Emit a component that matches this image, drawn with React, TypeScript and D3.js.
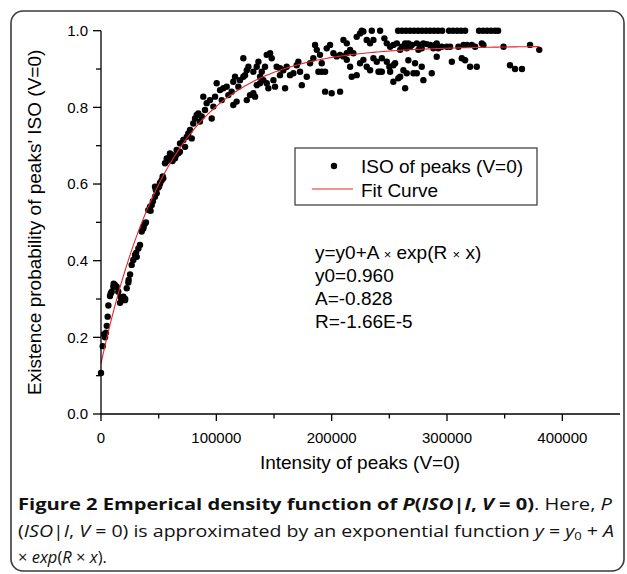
import React from "react";
import * as d3 from "d3";

// ---- data (x in thousands of intensity units, y = probability) ----
const isoPoints: [number, number][] = [
  [0, .107], [1.5, .177], [2.6, .208], [3.5, .2], [4.3, .212], [5, .23], [5.8, .254], [6.4, .283], [7.8, .308], [8.5, .315],
  [9.3, .319], [10.7, .332], [11, .34], [12.1, .337], [13.6, .332], [15, .319], [16.5, .29], [17, .305], [18, .297], [19.4, .306],
  [20.8, .297], [21, .3], [22.3, .328], [23.7, .343], [24, .35], [25.2, .364], [26.6, .389], [28, .402], [29.5, .415], [30.5, .42],
  [31, .41], [32.4, .432], [33.8, .441], [35.3, .476], [36.7, .484], [37, .49], [38.2, .497], [39, .5], [41, .532], [42.5, .541],
  [43, .53], [44, .545], [45, .555], [46.8, .567], [46.8, .593], [47.5, .585], [48.3, .576], [49.7, .591], [50.5, .595], [51.2, .602],
  [51.2, .603], [52.6, .61], [53.5, .62], [54, .615], [55.5, .654], [57, .66], [57, .667], [58.3, .667], [59.8, .68], [60, .67],
  [61.2, .676], [62, .66], [62.7, .671], [64.2, .667], [65, .675], [65.6, .689], [67, .68], [68.4, .684], [68.5, .706], [71.4, .715],
  [72.9, .697], [74.3, .723], [75.7, .732], [77.2, .741], [78.7, .719], [80, .758], [81.5, .771], [83, .78], [84.4, .784], [85.8, .763],
  [87.3, .776], [88.7, .828], [90.2, .793], [91.6, .811], [94.5, .819], [96, .771], [97.4, .802], [98.9, .828], [100.3, .863], [103.2, .845],
  [104.7, .819], [106.1, .85], [109, .854], [110.4, .832], [113.3, .841], [114.7, .867], [114.7, .806], [116.2, .88], [117.6, .815], [119.1, .854],
  [120.5, .871], [123.4, .88], [123.4, .928], [124.9, .884], [126.4, .819], [126.4, .897], [127.8, .906], [129.2, .832], [132.1, .837], [132.1, .893],
  [133.6, .828], [135, .858], [135, .906], [136.5, .919], [137.9, .863], [137.9, .88], [139.4, .893], [140.8, .871], [142.2, .906], [143.7, .937],
  [143.7, .863], [145.1, .85], [146.6, .941], [148, .928], [149.5, .871], [150.9, .854], [152.3, .906], [155.2, .884], [155.2, .902], [158.1, .897],
  [159.6, .85], [161, .906], [163.9, .884], [166.8, .889], [169.7, .91], [171.1, .919], [172.6, .893], [174.1, .858], [178.4, .88], [181.3, .915],
  [184.1, .928], [185.6, .963], [187.1, .95], [188.5, .893], [189.9, .937], [191.4, .915], [191.4, .893], [194.3, .893], [194.3, .841], [195.7, .954],
  [198.6, .963], [200, .837], [201.5, .941], [204.4, .933], [207.3, .937], [207.3, .841], [210.2, .933], [210.2, .976], [213.1, .941], [213.1, .967],
  [213.1, .924], [216, .95], [216, .906], [217.4, .88], [218.8, .941], [221.7, .984], [221.7, .884], [224.6, .993], [224.6, .915], [227.5, .998],
  [227.5, .924], [230.4, .976], [230.4, .906], [233.3, .967], [233.3, .897], [236.2, .976], [236.2, .928], [239.1, .919], [240.6, .893], [242, .893],
  [243.5, .928], [243.5, .893], [245.7, .98], [247.8, .967], [247.8, .919], [250, .906], [250.7, .958], [250.7, .893], [253.5, .963], [253.5, .91],
  [253.5, .867], [255, .915], [256.5, .967], [257.8, .876], [259.4, .95], [259.4, .88], [260.8, .958], [262.2, .897], [263.7, .967], [263.7, .85],
  [265.1, .954], [265.1, .889], [266.5, .967], [266.5, .923], [268, .958], [269.5, .963], [270.9, .889], [272.3, .915], [273.8, .967], [273.8, .889],
  [275.2, .95], [276.7, .963], [278.1, .954], [278.1, .906], [279.5, .967], [279.5, .871], [282.4, .965], [285.3, .963], [286.8, .889], [288.2, .954],
  [289.6, .963], [291.1, .967], [291.1, .932], [292.5, .954], [295.4, .958], [299.8, .958], [302.7, .958], [304.2, .919], [309.9, .958], [312.8, .928],
  [314.3, .963], [315.7, .923], [317.2, .963], [320, .906], [321.5, .963], [324.4, .958], [325.8, .906], [330.2, .967], [331.6, .963], [349, .958],
  [354.6, .91], [359, .9], [365, .9], [372, .963], [380, .95],
];
// points sitting on the y = 1.0 line (x in thousands)
const topRowX: number[] = [
  226.1, 234.8, 242, 257.6, 261, 264.5, 268, 271.5, 275, 278.4, 281.9, 285.3, 288.8, 292.3, 295.8,
  301.8, 305.3, 308.8, 312.2, 315.7, 327.8, 331.3, 334.8, 338.3, 341.7, 344.3,
];

// fit parameters shown in the chart
const fitY0 = 0.96;
const fitA = -0.828;
const fitR = -1.66e-5;
const fitMaxX = 380000;

const xMajorTicks = [0, 100000, 200000, 300000, 400000];
const xMinorTicks = [50000, 150000, 250000, 350000];
const yMajorTicks = [0, 0.2, 0.4, 0.6, 0.8, 1.0];
const yMinorTicks = [0.1, 0.3, 0.5, 0.7, 0.9];

const xTitle = "Intensity of peaks (V=0)";
const yTitle = "Existence probability of peaks' ISO (V=0)";
const legendLabels = ["ISO of peaks (V=0)", "Fit Curve"];
const eqLines = ["y0=0.960", "A=-0.828", "R=-1.66E-5"];

export default function App() {
  const x = d3.scaleLinear().domain([0, 450000]).range([101, 620]);
  const y = d3.scaleLinear().domain([0, 1]).range([414, 30.7]);
  const arial = "'Liberation Sans', Arial, sans-serif";
  const cap = "'Open Sans', 'Noto Sans', sans-serif";

  const fitData = d3.range(0, fitMaxX + 1, 2000).map((v) => [v, fitY0 + fitA * Math.exp(fitR * v)] as [number, number]);
  const line = d3.line<[number, number]>().x((d) => x(d[0])).y((d) => y(d[1]));

  const allPts: [number, number][] = [
    ...isoPoints.map((p) => [p[0] * 1000, p[1]] as [number, number]),
    ...topRowX.map((v) => [v * 1000, 1.0] as [number, number]),
  ];

  const x0 = x(0), y0 = y(0);

  return (
    <svg width={627} height={574} style={{ position: "absolute", left: 0, top: 0, background: "#fff" }}>
      <rect x={0} y={0} width={627} height={574} fill="#fff" />
      <rect x={11} y={11} width={613} height={560} rx={12} ry={12} fill="none" stroke="#3a3a3a" strokeWidth={1.6} />

      {/* points */}
      <g fill="#000">
        {allPts.map((p, i) => (
          <circle key={i} cx={x(p[0])} cy={y(p[1])} r={3.2} />
        ))}
      </g>
      {/* fit curve */}
      <path d={line(fitData) || ""} fill="none" stroke="#e8262a" strokeWidth={1.1} />

      {/* axes */}
      <g stroke="#000" strokeWidth={1.3}>
        <line x1={x0} y1={y0} x2={x(450000)} y2={y0} />
        <line x1={x0} y1={y0} x2={x0} y2={y(1)} />
        {xMajorTicks.map((t) => <line key={"xM" + t} x1={x(t)} x2={x(t)} y1={y0} y2={y0 + 7} />)}
        {xMinorTicks.map((t) => <line key={"xm" + t} x1={x(t)} x2={x(t)} y1={y0} y2={y0 + 4.5} />)}
        {yMajorTicks.map((t) => <line key={"yM" + t} x1={x0} x2={x0 - 8} y1={y(t)} y2={y(t)} />)}
        {yMinorTicks.map((t) => <line key={"ym" + t} x1={x0} x2={x0 - 5} y1={y(t)} y2={y(t)} />)}
      </g>
      <g fontFamily={arial} fontSize={15} fill="#000">
        {xMajorTicks.map((t) => (
          <text key={"xl" + t} x={x(t)} y={443} textAnchor="middle">{String(t)}</text>
        ))}
        {yMajorTicks.map((t) => (
          <text key={"yl" + t} x={88} y={y(t) + 5.3} textAnchor="end">{t.toFixed(1)}</text>
        ))}
      </g>
      <text x={360} y={469} textAnchor="middle" fontFamily={arial} fontSize={19}>{xTitle}</text>
      <text transform={`translate(41,${(y(0) + y(1)) / 2}) rotate(-90)`} textAnchor="middle" fontFamily={arial} fontSize={19}>{yTitle}</text>

      {/* legend */}
      <rect x={295} y={148} width={242} height={57} fill="#fff" stroke="#333" strokeWidth={1.2} />
      <circle cx={334} cy={166} r={3.2} fill="#000" />
      <line x1={312} x2={353} y1={189} y2={189} stroke="#e8262a" strokeWidth={1.1} />
      <text x={361} y={173} fontFamily={arial} fontSize={19}>{legendLabels[0]}</text>
      <text x={361} y={197} fontFamily={arial} fontSize={19}>{legendLabels[1]}</text>

      {/* equation */}
      <g fontFamily={arial} fontSize={19} fill="#000">
        <text x={315} y={259}>
          y=y0+A <tspan fontSize={13}>×</tspan> exp(R <tspan fontSize={13}>×</tspan> x)
        </text>
        {eqLines.map((s, i) => (
          <text key={s} x={315} y={282 + i * 23}>{s}</text>
        ))}
      </g>

      {/* caption */}
      <g fontFamily={cap} fontSize={16.5} fill="#111">
        <text x={18} y={510} textLength={594} lengthAdjust="spacingAndGlyphs">
          <tspan fontWeight="bold">Figure 2 Emperical density function of </tspan>
          <tspan fontWeight="bold" fontStyle="italic">P</tspan>
          <tspan fontWeight="bold">(</tspan>
          <tspan fontWeight="bold" fontStyle="italic">ISO</tspan>
          <tspan fontWeight="bold">|</tspan>
          <tspan fontWeight="bold" fontStyle="italic">I</tspan>
          <tspan fontWeight="bold">, </tspan>
          <tspan fontWeight="bold" fontStyle="italic">V</tspan>
          <tspan fontWeight="bold"> = 0)</tspan>
          <tspan>. Here, </tspan>
          <tspan fontStyle="italic">P</tspan>
        </text>
        <text x={18} y={537} textLength={596} lengthAdjust="spacingAndGlyphs">
          <tspan>(</tspan>
          <tspan fontStyle="italic">ISO</tspan>
          <tspan>|</tspan>
          <tspan fontStyle="italic">I</tspan>
          <tspan>, </tspan>
          <tspan fontStyle="italic">V</tspan>
          <tspan> = 0) is approximated by an exponential function </tspan>
          <tspan fontStyle="italic">y</tspan>
          <tspan> = </tspan>
          <tspan fontStyle="italic">y</tspan>
          <tspan fontSize={11} dy={3}>0</tspan>
          <tspan dy={-3}> + </tspan>
          <tspan fontStyle="italic">A</tspan>
        </text>
        <text x={18} y={563}>
          <tspan>× </tspan>
          <tspan fontStyle="italic">exp</tspan>
          <tspan>(</tspan>
          <tspan fontStyle="italic">R</tspan>
          <tspan> × </tspan>
          <tspan fontStyle="italic">x</tspan>
          <tspan>).</tspan>
        </text>
      </g>
    </svg>
  );
}
